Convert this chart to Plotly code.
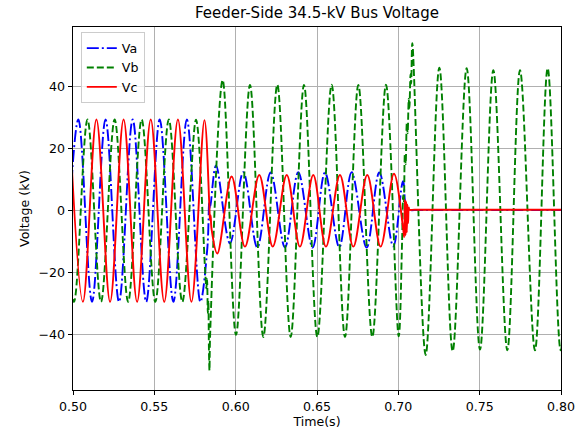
import plotly.graph_objects as go

# ---- data: extrema / key points (time in s, voltage in kV)
va_t = [0.4950, 0.5033, 0.5117, 0.5200, 0.5283, 0.5367, 0.5450, 0.5533, 0.5617, 0.5700, 0.5783,
        0.5826, 0.5838, 0.5843, 0.5879, 0.5965, 0.6047, 0.6133, 0.6215, 0.6303, 0.6385, 0.6473,
        0.6549, 0.6637, 0.6713, 0.6805, 0.6883, 0.6969, 0.7029, 0.7055, 0.7100, 0.7400, 0.7700,
        0.8000, 0.8100]
va_v = [-29.4, 29.4, -29.4, 29.4, -29.4, 29.4, -29.4, 29.4, -29.4, 29.4, -29.4,
        -12.0, 3.0, 1.0, 14.6, -10.5, 12.4, -11.9, 12.3, -11.8, 12.4, -11.9,
        12.3, -11.8, 12.4, -11.9, 12.3, -11.5, 9.5, 0.3, 0.2, 0.2, 0.2,
        0.2, 0.2]

vb_t = [0.4922, 0.5006, 0.5089, 0.5172, 0.5256, 0.5339, 0.5422, 0.5506, 0.5589, 0.5672, 0.5756,
        0.5812, 0.5820, 0.5824, 0.5829, 0.5832, 0.5836, 0.5839, 0.5843, 0.5920,
        0.6002, 0.6088, 0.6170, 0.6256, 0.6338, 0.6420, 0.6502, 0.6590, 0.6672, 0.6754, 0.6840,
        0.6924, 0.7002, 0.7023, 0.7030, 0.7034, 0.7040, 0.7045, 0.7052, 0.7057, 0.7064, 0.7068,
        0.7075, 0.7079, 0.7086, 0.7168, 0.7252, 0.7334, 0.7420, 0.7502, 0.7584, 0.7670, 0.7748,
        0.7840, 0.7918, 0.7998, 0.8080]
vb_v = [29.4, -29.4, 29.4, -29.4, 29.4, -29.4, 29.4, -29.4, 29.4, -29.4, 29.3,
        -19.0, -25.0, -22.0, -33.0, -29.0, -46.0, -51.5, -40.0, 42.1,
        -40.0, 40.5, -40.7, 40.6, -40.7, 40.5, -40.7, 40.6, -40.7, 40.5, -40.7,
        40.6, -40.5, -10.0, 5.0, 3.0, 18.0, 15.0, 28.0, 25.0, 36.0, 33.0,
        44.0, 41.0, 54.0, -46.5, 46.1, -45.3, 45.9, -44.8, 45.3, -45.0, 45.3,
        -45.0, 45.9, -45.0, 45.0]

vc_t = [0.4978, 0.5061, 0.5144, 0.5228, 0.5311, 0.5394, 0.5478, 0.5561, 0.5645, 0.5728, 0.5808,
        0.5838, 0.5842, 0.5846, 0.5852, 0.5887, 0.5975, 0.6057, 0.6145, 0.6228, 0.6314, 0.6395,
        0.6477, 0.6555, 0.6641, 0.6723, 0.6809, 0.6891, 0.6973, 0.7029, 0.7036, 0.7040, 0.7044,
        0.7048, 0.7052, 0.7056, 0.7060, 0.7064, 0.7068, 0.7100, 0.7400, 0.7700, 0.8000, 0.8100]
vc_v = [29.4, -29.4, 29.4, -29.4, 29.4, -29.4, 29.4, -29.4, 29.4, -29.4, 29.2,
        2.0, -3.0, -1.5, -6.0, -13.8, 11.0, -11.6, 11.5, -11.6, 11.5, -11.6,
        11.5, -11.6, 11.5, -11.6, 11.5, -11.6, 11.9, -5.5, -8.5, 3.5, -8.0,
        3.0, -7.0, 2.0, -4.0, 1.0, 0.3, 0.3, 0.3, 0.3, 0.3, 0.3]

x_ticks = [0.50, 0.55, 0.60, 0.65, 0.70, 0.75, 0.80]
y_ticks = [-40, -20, 0, 20, 40]

FONT = "DejaVu Sans"

fig = go.Figure()
fig.add_trace(go.Scatter(x=va_t, y=va_v, name="Va", mode="lines",
                         line=dict(color="blue", width=1.9, dash="12px,3px,2px,3px",
                                   shape="spline", smoothing=1.0)))
fig.add_trace(go.Scatter(x=vb_t, y=vb_v, name="Vb", mode="lines",
                         line=dict(color="green", width=1.9, dash="7px,3px",
                                   shape="spline", smoothing=1.0)))
fig.add_trace(go.Scatter(x=vc_t, y=vc_v, name="Vc", mode="lines",
                         line=dict(color="red", width=1.9, shape="spline", smoothing=1.0)))

fig.update_layout(
    width=580, height=432,
    margin=dict(l=73, r=19, t=27, b=42, autoexpand=False),
    paper_bgcolor="white", plot_bgcolor="white",
    font=dict(family=FONT, size=12.6, color="black"),
    title=dict(text="Feeder-Side 34.5-kV Bus Voltage", font=dict(family=FONT, size=15, color="black"),
               x=0.5, xref="paper", xanchor="center", y=1 - 13 / 432, yref="container",
               yanchor="middle"),
    legend=dict(x=0.016, y=0.985, xanchor="left", yanchor="top",
                bgcolor="rgba(255,255,255,0.8)", bordercolor="#cccccc", borderwidth=1,
                font=dict(family=FONT, size=12.6, color="black"), itemwidth=30,
                tracegroupgap=0),
    showlegend=True,
)
fig.update_xaxes(range=[0.5, 0.8], tickvals=x_ticks, ticktext=[f"{v:.2f}" for v in x_ticks],
                 showline=True, mirror=True, linecolor="black", linewidth=1,
                 ticks="outside", ticklen=4.4, tickwidth=1, tickcolor="black",
                 showgrid=True, gridcolor="#b0b0b0", gridwidth=1, zeroline=False,
                 title=dict(text="Time(s)", font=dict(family=FONT, size=12.6), standoff=4))
fig.update_yaxes(range=[-57.8, 59.2], tickvals=y_ticks,
                 showline=True, mirror=True, linecolor="black", linewidth=1,
                 ticks="outside", ticklen=4.4, tickwidth=1, tickcolor="black",
                 showgrid=True, gridcolor="#b0b0b0", gridwidth=1, zeroline=False,
                 title=dict(text="Voltage (kV)", font=dict(family=FONT, size=12.6), standoff=6))

fig.write_html("out.html")
